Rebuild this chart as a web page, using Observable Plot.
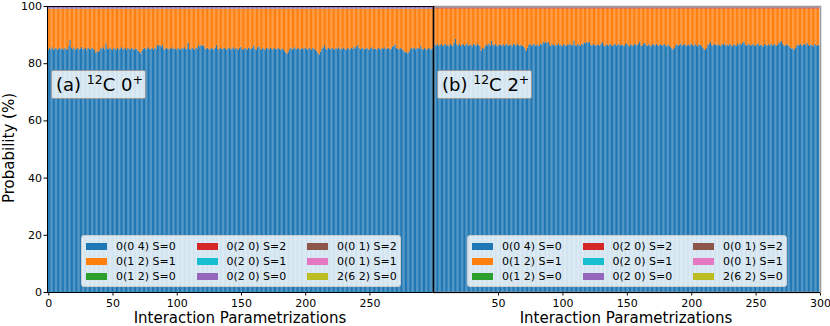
<!DOCTYPE html>
<html>
<head>
<meta charset="utf-8">
<script src="https://cdn.jsdelivr.net/npm/d3@7"></script>
<script src="https://cdn.jsdelivr.net/npm/@observablehq/plot@0.6"></script>
<style>
  html, body { margin: 0; padding: 0; background: #fff; }
  #wrap { position: relative; width: 830px; height: 326px; font-family: "DejaVu Sans", sans-serif; color: #000; overflow: hidden; }
  #wrap svg { position: absolute; top: 0; }
  .legend { position: absolute; box-sizing: border-box; background: rgba(255,255,255,0.8); border: 1px solid #cccccc; border-radius: 3px; font-size: 11px; }
  .item { position: absolute; white-space: nowrap; line-height: 13px; }
  .sw { position: absolute; width: 21px; height: 7px; }
  .tag { position: absolute; box-sizing: border-box; background: rgba(255,255,255,0.8); border: 1px solid #999; border-radius: 2px; font-size: 18px; padding: 3px 4px; white-space: nowrap; line-height: 21px; }
  .tag sup { font-size: 12.5px; vertical-align: 7px; line-height: 0; }
  .axlab { position: absolute; font-size: 15px; line-height: 15px; white-space: nowrap; }
</style>
</head>
<body>
<div id="wrap"></div>
<script>
// Categories (stack order, bottom to top) and their colours
const categories = ["0(0 4) S=0", "0(1 2) S=1", "0(1 2) S=0", "0(2 0) S=2", "0(2 0) S=1", "0(2 0) S=0", "0(0 1) S=2", "0(0 1) S=1", "2(6 2) S=0"];
const colors = ["#1f77b4", "#ff7f0e", "#2ca02c", "#d62728", "#17becf", "#9467bd", "#8c564b", "#e377c2", "#bcbd22"];

// Panel (a) 12C 0+ : probability (%) of 0(0 4) S=0 for each interaction parametrization
const blueA = [
84.6,85.3,84.9,85.6,84.8,85.1,85.4,84.7,85.0,85.5,84.9,85.2,84.6,85.4,85.0,84.8,86.0,88.2,85.3,84.9,
85.6,84.7,85.1,85.4,84.8,85.2,85.7,84.9,85.0,85.3,84.6,85.5,85.1,84.8,85.4,85.0,84.7,83.6,84.2,83.9,
84.5,85.3,85.0,85.6,84.8,87.0,85.2,84.9,85.5,85.0,84.6,85.3,85.1,84.8,85.4,84.7,85.2,85.6,84.9,85.0,
85.3,84.6,85.5,85.1,84.8,85.4,85.0,84.7,85.2,84.9,84.4,84.0,83.4,84.3,85.1,85.4,84.8,85.2,85.6,84.9,
85.0,85.3,84.7,85.5,85.1,86.4,86.0,86.5,85.8,86.3,85.0,84.8,85.4,85.1,84.7,85.3,85.0,85.6,84.9,85.2,
84.6,85.4,85.0,84.8,85.3,85.1,85.6,84.9,85.2,87.2,85.0,84.7,85.4,85.1,84.8,85.5,85.2,86.3,85.9,86.4,
86.1,86.3,85.2,84.9,85.4,85.0,84.7,85.3,85.1,84.8,85.5,86.4,85.0,84.6,85.3,85.1,84.9,85.4,85.0,84.7,
85.2,85.5,84.8,85.1,85.6,84.9,85.3,85.0,84.7,85.4,85.8,85.0,84.6,85.3,85.1,84.8,85.5,85.2,84.9,85.4,
86.3,85.0,84.7,85.6,85.9,85.1,84.8,85.3,85.0,84.6,85.4,85.2,84.9,85.5,85.0,84.7,85.3,85.1,84.8,85.4,
85.0,84.6,85.2,84.9,84.2,83.8,83.3,84.1,85.0,85.4,84.8,85.2,85.6,84.9,85.1,85.4,84.7,85.0,85.3,84.8,
85.5,85.1,84.8,85.4,85.0,84.6,85.3,85.1,84.7,84.2,83.6,83.0,84.0,85.1,85.4,86.3,85.0,84.8,85.5,85.2,
84.9,85.3,85.0,84.7,85.4,85.1,85.6,84.8,85.2,84.9,85.5,85.0,84.6,85.3,85.1,84.8,85.4,85.0,85.7,85.2,
85.9,86.4,85.3,84.9,85.2,85.5,84.8,85.1,85.4,85.0,84.7,85.3,85.6,84.9,85.2,85.0,84.6,85.4,85.1,84.8,
85.3,85.0,85.6,84.9,85.2,85.4,84.7,85.1,85.8,86.1,86.6,85.4,85.0,84.8,85.3,85.1,84.7,84.2,83.8,83.9,
83.4,84.1,84.9,85.3,85.0,85.5,84.8,85.2,85.4,85.0,86.0,85.1,84.7,85.3,85.0,84.6,85.4,85.1,84.8,85.2
];
// Panel (b) 12C 2+
const blueB = [
85.9,86.6,86.2,86.9,86.1,86.4,86.7,86.0,86.3,86.8,86.2,86.5,85.9,86.7,86.3,86.1,87.2,88.5,86.6,86.2,
86.9,86.0,86.4,86.7,86.1,86.5,87.0,86.2,86.3,86.6,85.9,86.8,86.4,86.1,86.7,86.3,86.0,84.4,85.3,85.0,
85.8,86.6,86.3,86.9,86.1,87.9,86.5,86.2,86.8,86.3,85.9,86.6,86.4,86.1,86.7,86.0,86.5,86.9,86.2,86.3,
86.6,85.9,86.8,86.4,86.1,86.7,86.3,86.0,86.5,86.2,85.7,85.2,84.4,85.5,86.4,86.7,86.1,86.5,86.9,86.2,
86.3,86.6,86.0,86.8,86.4,87.4,87.0,87.6,87.1,87.4,86.3,86.1,86.7,86.4,86.0,86.6,86.3,86.9,86.2,86.5,
85.9,86.7,86.3,86.1,86.6,86.4,86.9,86.2,86.5,87.9,86.3,86.0,86.7,86.4,86.1,86.8,86.5,87.3,87.0,87.5,
87.2,87.4,86.5,86.2,86.7,86.3,86.0,86.6,86.4,86.1,86.8,87.5,86.3,85.9,86.6,86.4,86.2,86.7,86.3,86.0,
86.5,86.8,86.1,86.4,86.9,86.2,86.6,86.3,86.0,86.7,87.0,86.3,85.9,86.6,86.4,86.1,86.8,86.5,86.2,86.7,
87.5,86.3,86.0,86.9,87.1,86.4,86.1,86.6,86.3,85.9,86.7,86.5,86.2,86.8,86.3,86.0,86.6,86.4,86.1,86.7,
86.3,85.9,86.5,86.2,85.6,85.2,84.8,85.4,86.3,86.7,86.1,86.5,86.9,86.2,86.4,86.7,86.0,86.3,86.6,86.1,
86.8,86.4,86.1,86.7,86.3,85.9,86.6,86.4,86.0,85.5,85.0,84.6,85.3,86.4,86.7,87.5,86.3,86.1,86.8,86.5,
86.2,86.6,86.3,86.0,86.7,86.4,86.9,86.1,86.5,86.2,86.8,86.3,85.9,86.6,86.4,86.1,86.7,86.3,87.0,86.5,
87.1,87.6,86.6,86.2,86.5,86.8,86.1,86.4,86.7,86.3,86.0,86.6,86.9,86.2,86.5,86.3,85.9,86.7,86.4,86.1,
86.6,86.3,86.9,86.2,86.5,86.7,86.0,86.4,87.0,87.3,87.8,86.7,86.3,86.1,86.6,86.4,86.0,85.5,85.1,85.2,
84.7,85.4,86.2,86.6,86.3,86.8,86.1,86.5,86.7,86.3,87.2,86.4,86.0,86.6,86.3,85.9,86.7,86.4,86.1,86.5
];
// Small components (%) : 0(1 2) S=0, 0(2 0) S=2, 0(2 0) S=1, 0(2 0) S=0, 0(0 1) S=2, 0(0 1) S=1, 2(6 2) S=0
const minorA = [0.05, 0.08, 0.05, 0.75, 0.05, 0.05, 0.02];
const minorB = [0.03, 0.35, 0.03, 0.10, 0.30, 0.10, 0.02];

const xTicksA = [0, 50, 100, 150, 200, 250];
const xTicksB = [50, 100, 150, 200, 250, 300];
const yTicks = [0, 20, 40, 60, 80, 100];

function rows(blue, minor) {
  const out = [];
  const minorSum = d3.sum(minor);
  blue.forEach((b, i) => {
    const vals = [b, 100 - b - minorSum, ...minor];
    vals.forEach((v, k) => out.push({i, cat: categories[k], v}));
  });
  return out;
}

const H = 326, MT = 6, MB = 34;
const common = {
  height: H, marginTop: MT, marginBottom: MB,
  style: {fontFamily: "DejaVu Sans, sans-serif", fontSize: "11px", color: "#000", background: "transparent", overflow: "visible"},
  color: {domain: categories, range: colors},
};

const left = Plot.plot({
  ...common,
  width: 433, marginLeft: 47, marginRight: 0,
  x: {domain: [-1, 299.5], ticks: xTicksA, tickSize: 3.5, tickPadding: 3, label: null, tickFormat: d3.format("d")},
  y: {domain: [0, 100], ticks: yTicks, tickSize: 3.5, tickPadding: 2, label: null, tickFormat: d3.format("d")},
  marks: [
    Plot.rectY(rows(blueA, minorA), {x1: d => d.i - 0.5, x2: d => d.i + 0.5, y: "v", fill: "cat"}),
    Plot.frame({stroke: "#000", strokeWidth: 1})
  ]
});

const right = Plot.plot({
  ...common,
  width: 397, marginLeft: 0, marginRight: 10,
  x: {domain: [-0.5, 300], ticks: xTicksB, tickSize: 3.5, tickPadding: 3, label: null, tickFormat: d3.format("d")},
  y: {domain: [0, 100], axis: null},
  marks: [
    Plot.rectY(rows(blueB, minorB), {x1: d => d.i - 0.5, x2: d => d.i + 0.5, y: "v", fill: "cat"}),
    Plot.frame({stroke: "#999", strokeWidth: 1.5}),
    Plot.ruleX([-0.5], {stroke: "#000", strokeWidth: 1.5}),
    Plot.ruleY([0], {stroke: "#000", strokeWidth: 1})
  ]
});

const wrap = document.getElementById("wrap");
left.style.left = "0px";
right.style.left = "433px";
wrap.appendChild(left);
wrap.appendChild(right);

function addDiv(cls, css, html) {
  const d = document.createElement("div");
  d.className = cls;
  Object.assign(d.style, css);
  d.innerHTML = html;
  wrap.appendChild(d);
  return d;
}

// Axis titles
addDiv("axlab", {left: "240px", top: "311px", transform: "translateX(-50%)"}, "Interaction Parametrizations");
addDiv("axlab", {left: "626px", top: "311px", transform: "translateX(-50%)"}, "Interaction Parametrizations");
addDiv("axlab", {left: "9px", top: "148px", transform: "translate(-50%,-50%) rotate(-90deg)"}, "Probability (%)");

// Panel tags
addDiv("tag", {left: "51px", top: "70px", width: "95px", height: "29px"}, "(a) <sup>12</sup>C 0<sup>+</sup>");
addDiv("tag", {left: "437px", top: "70px", width: "95px", height: "29px"}, "(b) <sup>12</sup>C 2<sup>+</sup>");

// Legends (column-major, 3 rows)
function legend(x, y) {
  const box = addDiv("legend", {left: x + "px", top: y + "px", width: "320px", height: "52px"}, "");
  categories.forEach((c, k) => {
    const col = Math.floor(k / 3), row = k % 3;
    const sw = document.createElement("div");
    sw.className = "sw";
    Object.assign(sw.style, {left: (4 + col * 110.5) + "px", top: (7 + row * 15) + "px", background: colors[k]});
    box.appendChild(sw);
    const t = document.createElement("div");
    t.className = "item";
    Object.assign(t.style, {left: (34 + col * 110.5) + "px", top: (4 + row * 15) + "px"});
    t.textContent = c;
    box.appendChild(t);
  });
}
legend(81, 235);
legend(467, 235);
</script>
</body>
</html>
